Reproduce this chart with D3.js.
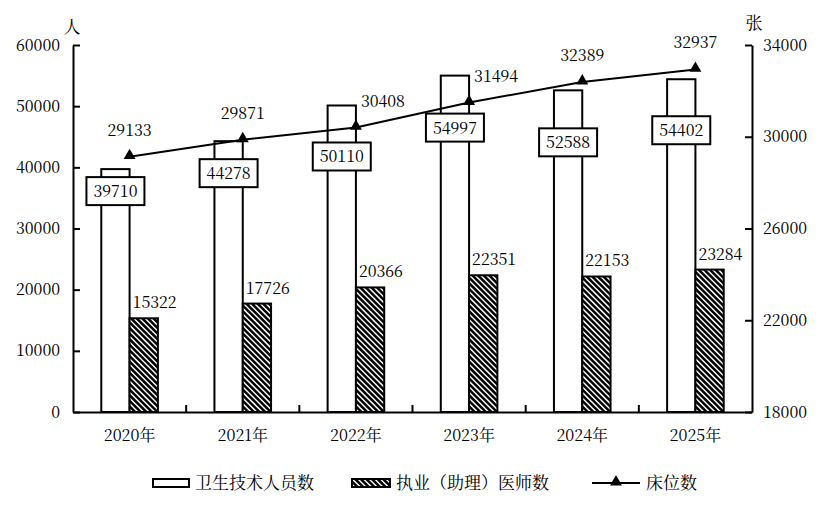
<!DOCTYPE html>
<html>
<head>
<meta charset="utf-8">
<script src="https://cdn.jsdelivr.net/npm/d3@7/dist/d3.min.js"></script>
<style>
  html, body { margin: 0; padding: 0; background: #fff; }
  svg { display: block; }
</style>
</head>
<body>
<svg id="chart" width="832" height="506"></svg>
<script>
// ---- data ----
const categories = ["2020年", "2021年", "2022年", "2023年", "2024年", "2025年"];
const staff   = [39710, 44278, 50110, 54997, 52588, 54402];   // 卫生技术人员数 (人)
const doctors = [15322, 17726, 20366, 22351, 22153, 23284];   // 执业（助理）医师数 (人)
const beds    = [29133, 29871, 30408, 31494, 32389, 32937];   // 床位数 (张)
const leftTicks  = [0, 10000, 20000, 30000, 40000, 50000, 60000];
const rightTicks = [18000, 22000, 26000, 30000, 34000];
const legendNames = ["卫生技术人员数", "执业（助理）医师数", "床位数"];

// ---- label layout (px) ----
const staffLabelDrop = [22, 32, 51, 52, 52, 51];
const bedLabelSide = ["top", "top", "right", "right", "top", "top"];

// ---- style ----
const FONT = "Noto Serif CJK SC";
const FS_NUM = 16, FS_CJK = 17;

// ---- layout ----
const L = 73, R = 752, T = 45, B = 412;
const svg = d3.select("#chart");
const defs = svg.append("defs");

const x = d3.scaleBand().domain(categories).range([L, R]).paddingInner(0).paddingOuter(0);
const yL = d3.scaleLinear().domain([0, 60000]).range([B, T]);
const yR = d3.scaleLinear().domain([18000, 34000]).range([B, T]);
const barW = 28.3;
const cx = c => x(c) + x.bandwidth() / 2;

function txt(sel, size) {
  return sel.attr("font-family", FONT).attr("font-size", size)
    .style("font-family", FONT).style("font-size", size + "px").attr("fill", "#000");
}

// diagonal hatching inside a rectangle (clipped)
let clipN = 0;
function hatchRect(parent, x0, y0, w, h) {
  const id = "clip" + (clipN++);
  defs.append("clipPath").attr("id", id).append("rect")
    .attr("x", x0).attr("y", y0).attr("width", w).attr("height", h);
  const hg = parent.append("g").attr("clip-path", `url(#${id})`);
  hg.append("rect").attr("x", x0).attr("y", y0).attr("width", w).attr("height", h).attr("fill", "#fff");
  const step = 5.6, span = w + h;
  d3.range(x0 - h, x0 + w + step, step).forEach(a => {
    hg.append("line").attr("x1", a).attr("y1", y0).attr("x2", a + span).attr("y2", y0 + span)
      .attr("stroke", "#000").attr("stroke-width", 2.5);
  });
  parent.append("rect").attr("x", x0).attr("y", y0).attr("width", w).attr("height", h)
    .attr("fill", "none").attr("stroke", "#000").attr("stroke-width", 2);
}

// bars
const g = svg.append("g");
g.selectAll("rect.staff").data(categories).enter().append("rect")
  .attr("x", c => cx(c) - barW).attr("width", barW)
  .attr("y", (c, i) => yL(staff[i])).attr("height", (c, i) => B - yL(staff[i]))
  .attr("fill", "#fff").attr("stroke", "#000").attr("stroke-width", 2);
categories.forEach((c, i) => hatchRect(g, cx(c), yL(doctors[i]), barW, B - yL(doctors[i])));

// axes
const axL = d3.axisLeft(yL).tickValues(leftTicks).tickSizeInner(-7).tickSizeOuter(0).tickPadding(13).tickFormat(d3.format("d"));
const gL = svg.append("g").attr("transform", `translate(${L},0)`).call(axL);
const axR = d3.axisRight(yR).tickValues(rightTicks).tickSizeInner(-7).tickSizeOuter(0).tickPadding(11).tickFormat(d3.format("d"));
const gR = svg.append("g").attr("transform", `translate(${R},0)`).call(axR);
const axB = d3.axisBottom(x).tickSize(0).tickPadding(18);
const gB = svg.append("g").attr("transform", `translate(0,${B})`).call(axB);
[gL, gR, gB].forEach(a => {
  a.attr("font-family", FONT).attr("font-size", FS_NUM);
  a.selectAll("path.domain").attr("stroke", "#000").attr("stroke-width", 2);
  a.selectAll("line").attr("stroke", "#000").attr("stroke-width", 2);
  txt(a.selectAll("text"), FS_NUM);
});
// category boundary ticks
svg.append("g").selectAll("line").data(categories.slice(1)).enter().append("line")
  .attr("x1", c => x(c)).attr("x2", c => x(c))
  .attr("y1", B).attr("y2", B - 7)
  .attr("stroke", "#000").attr("stroke-width", 2);

// unit labels
txt(svg.append("text").attr("x", L - 1).attr("y", 33).attr("text-anchor", "middle"), FS_CJK).text("人");
txt(svg.append("text").attr("x", R + 2).attr("y", 29).attr("text-anchor", "middle"), FS_CJK).text("张");

// line
const line = d3.line().x((d, i) => cx(categories[i])).y(d => yR(d));
svg.append("path").datum(beds).attr("d", line)
  .attr("fill", "none").attr("stroke", "#000").attr("stroke-width", 2);
const tri = d3.symbol().type(d3.symbolTriangle).size(62);
svg.append("g").selectAll("path").data(beds).enter().append("path")
  .attr("d", tri)
  .attr("transform", (d, i) => `translate(${cx(categories[i])},${yR(d) - 1})`)
  .attr("fill", "#000");

// staff labels in boxes
const boxW = 58, boxH = 28;
const sl = svg.append("g").selectAll("g").data(staff).enter().append("g")
  .attr("transform", (d, i) => `translate(${cx(categories[i]) - barW / 2},${yL(d) + staffLabelDrop[i]})`);
sl.append("rect").attr("x", -boxW / 2).attr("y", -boxH / 2).attr("width", boxW).attr("height", boxH)
  .attr("fill", "#fff").attr("stroke", "#000").attr("stroke-width", 2);
txt(sl.append("text").attr("text-anchor", "middle").attr("y", 6), FS_NUM).text(d => d);

// doctor labels
txt(svg.append("g").selectAll("text").data(doctors).enter().append("text")
  .attr("x", (d, i) => cx(categories[i]) + 3).attr("y", d => yL(d) - 10), FS_NUM)
  .text(d => d);

// bed labels
txt(svg.append("g").selectAll("text").data(beds).enter().append("text")
  .attr("x", (d, i) => cx(categories[i]) + (bedLabelSide[i] === "right" ? 5 : 0))
  .attr("y", (d, i) => yR(d) - (bedLabelSide[i] === "right" ? 20 : 21))
  .attr("text-anchor", (d, i) => bedLabelSide[i] === "right" ? "start" : "middle"), FS_NUM)
  .text(d => d);

// legend
const lg = svg.append("g");
const ly = 483;
lg.append("rect").attr("x", 153).attr("y", ly - 4).attr("width", 36).attr("height", 8)
  .attr("fill", "#fff").attr("stroke", "#000").attr("stroke-width", 2);
txt(lg.append("text").attr("x", 195).attr("y", ly + 6), FS_CJK).text(legendNames[0]);
hatchRect(lg, 352, ly - 4, 38, 8);
txt(lg.append("text").attr("x", 396).attr("y", ly + 6), FS_CJK).text(legendNames[1]);
lg.append("line").attr("x1", 592).attr("x2", 640).attr("y1", ly).attr("y2", ly)
  .attr("stroke", "#000").attr("stroke-width", 2);
lg.append("path").attr("d", tri).attr("transform", `translate(616,${ly - 1})`).attr("fill", "#000");
txt(lg.append("text").attr("x", 646).attr("y", ly + 6), FS_CJK).text(legendNames[2]);
</script>
</body>
</html>
